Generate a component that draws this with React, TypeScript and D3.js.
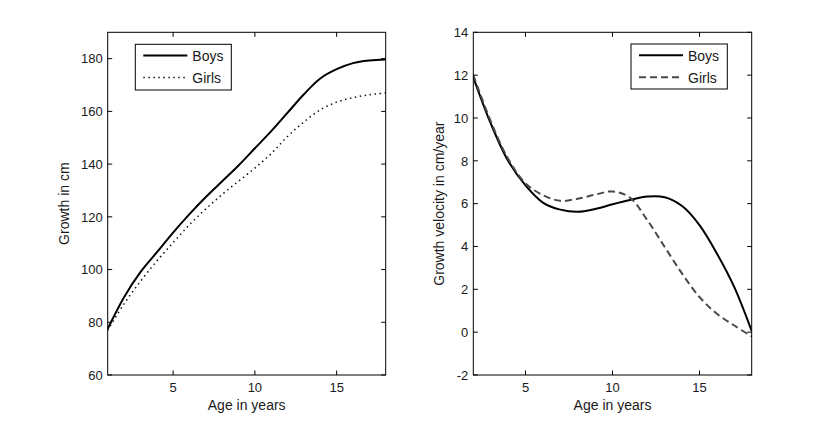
import * as d3 from "d3";

// growth (left panel)
const heightAges = [1, 2, 3, 4, 5, 6, 7, 8, 9, 10, 11, 12, 13, 14, 15, 16, 17, 18];
const boysHeight = [77.5, 89.5, 99, 106.5, 114, 121, 127.5, 133.5, 139.5, 146, 152.5, 159.5, 166.5, 172.5, 176, 178.3, 179.3, 179.7];
const girlsHeight = [77, 87, 95.5, 103.2, 110.2, 117, 123, 128.5, 133.5, 138.5, 144, 150.5, 156, 160.6, 163.5, 165.2, 166.3, 167];

// velocity (right panel)
const velocityAges = [2, 3, 4, 5, 6, 7, 8, 9, 10, 11, 12, 13, 14, 15, 16, 17, 18];
const boysVelocity = [11.9, 9.75, 8.0, 6.85, 6.05, 5.72, 5.62, 5.75, 5.97, 6.17, 6.33, 6.3, 5.89, 5.0, 3.67, 2.1, 0.05];
const girlsVelocity = [12.0, 9.85, 8.1, 6.95, 6.4, 6.13, 6.23, 6.42, 6.57, 6.28, 5.23, 3.98, 2.73, 1.64, 0.86, 0.31, -0.2];

const xTicks = [5, 10, 15];
const heightTicks = [60, 80, 100, 120, 140, 160, 180];
const velocityTicks = [-2, 0, 2, 4, 6, 8, 10, 12, 14];
const legendLabels = ["Boys", "Girls"];

const FONT = "Arial, 'Liberation Sans', sans-serif";
const TXT = "#1a1a1a";
const TICK = 4.5;

type Series = { values: number[]; stroke: string; width: number; dash?: string };

type PanelProps = {
  left: number;
  right: number;
  top: number;
  bottom: number;
  xDomain: [number, number];
  yDomain: [number, number];
  yTicks: number[];
  ages: number[];
  series: Series[];
  yLabel: string;
  yLabelX: number;
  legend: { x: number; y: number; w: number; h: number };
};

function Panel(p: PanelProps) {
  const x = d3.scaleLinear().domain(p.xDomain).range([p.left, p.right]);
  const y = d3.scaleLinear().domain(p.yDomain).range([p.bottom, p.top]);
  const line = d3
    .line<[number, number]>()
    .x((d) => x(d[0]))
    .y((d) => y(d[1]))
    .curve(d3.curveCatmullRom.alpha(0.5));

  const lg = p.legend;
  return (
    <g>
      <defs>
        <clipPath id={`clip-${p.left}`}>
          <rect x={p.left} y={p.top} width={p.right - p.left} height={p.bottom - p.top} />
        </clipPath>
      </defs>
      <g clipPath={`url(#clip-${p.left})`}>
        {p.series.map((s, i) => (
          <path
            key={i}
            d={line(p.ages.map((a, j) => [a, s.values[j]] as [number, number])) || ""}
            fill="none"
            stroke={s.stroke}
            strokeWidth={s.width}
            strokeDasharray={s.dash}
          />
        ))}
      </g>
      <rect
        x={p.left}
        y={p.top}
        width={p.right - p.left}
        height={p.bottom - p.top}
        fill="none"
        stroke="#000"
        strokeWidth={1}
      />
      {xTicks.map((t) => (
        <g key={"x" + t}>
          <line x1={x(t)} x2={x(t)} y1={p.bottom} y2={p.bottom - TICK} stroke="#000" />
          <line x1={x(t)} x2={x(t)} y1={p.top} y2={p.top + TICK} stroke="#000" />
          <text x={x(t)} y={p.bottom + 16.7} textAnchor="middle" fontSize={13} fill={TXT}>
            {t}
          </text>
        </g>
      ))}
      {p.yTicks.map((t) => (
        <g key={"y" + t}>
          <line x1={p.left} x2={p.left + TICK} y1={y(t)} y2={y(t)} stroke="#000" />
          <line x1={p.right} x2={p.right - TICK} y1={y(t)} y2={y(t)} stroke="#000" />
          <text x={p.left - 5} y={y(t) + 4.7} textAnchor="end" fontSize={13} fill={TXT}>
            {t}
          </text>
        </g>
      ))}
      <text
        x={(p.left + p.right) / 2}
        y={p.bottom + 35}
        textAnchor="middle"
        fontSize={14}
        fill={TXT}
      >
        Age in years
      </text>
      <text
        transform={`translate(${p.yLabelX},${(p.top + p.bottom) / 2}) rotate(-90)`}
        textAnchor="middle"
        fontSize={14}
        fill={TXT}
      >
        {p.yLabel}
      </text>
      <rect x={lg.x} y={lg.y} width={lg.w} height={lg.h} fill="#fff" stroke="#000" strokeWidth={1} />
      {p.series.map((s, i) => {
        const ly = lg.y + 11.2 + i * 22;
        return (
          <g key={"l" + i}>
            <line
              x1={lg.x + 8}
              x2={lg.x + 52}
              y1={ly}
              y2={ly}
              stroke={s.stroke}
              strokeWidth={s.width}
              strokeDasharray={s.dash}
            />
            <text x={lg.x + 57} y={ly + 5.8} fontSize={14} fill={TXT}>
              {legendLabels[i]}
            </text>
          </g>
        );
      })}
    </g>
  );
}

export default function App() {
  return (
    <svg
      width={830}
      height={421}
      style={{ position: "absolute", left: 0, top: 0, background: "#fff" }}
      fontFamily={FONT}
    >
      <rect width={830} height={421} fill="#fff" />
      <Panel
        left={107.7}
        right={385.7}
        top={32.3}
        bottom={375}
        xDomain={[1, 18]}
        yDomain={[60, 190]}
        yTicks={heightTicks}
        ages={heightAges}
        series={[
          { values: boysHeight, stroke: "#000", width: 2 },
          { values: girlsHeight, stroke: "#111", width: 1.5, dash: "1.5,3.5" },
        ]}
        yLabel="Growth in cm"
        yLabelX={69}
        legend={{ x: 135.3, y: 44.3, w: 96, h: 45.7 }}
      />
      <Panel
        left={473.3}
        right={751.7}
        top={32.3}
        bottom={375}
        xDomain={[2, 18]}
        yDomain={[-2, 14]}
        yTicks={velocityTicks}
        ages={velocityAges}
        series={[
          { values: boysVelocity, stroke: "#000", width: 2 },
          { values: girlsVelocity, stroke: "#4a4a4a", width: 2, dash: "7,4" },
        ]}
        yLabel="Growth velocity in cm/year"
        yLabelX={443.5}
        legend={{ x: 631, y: 44, w: 96.3, h: 45 }}
      />
    </svg>
  );
}
